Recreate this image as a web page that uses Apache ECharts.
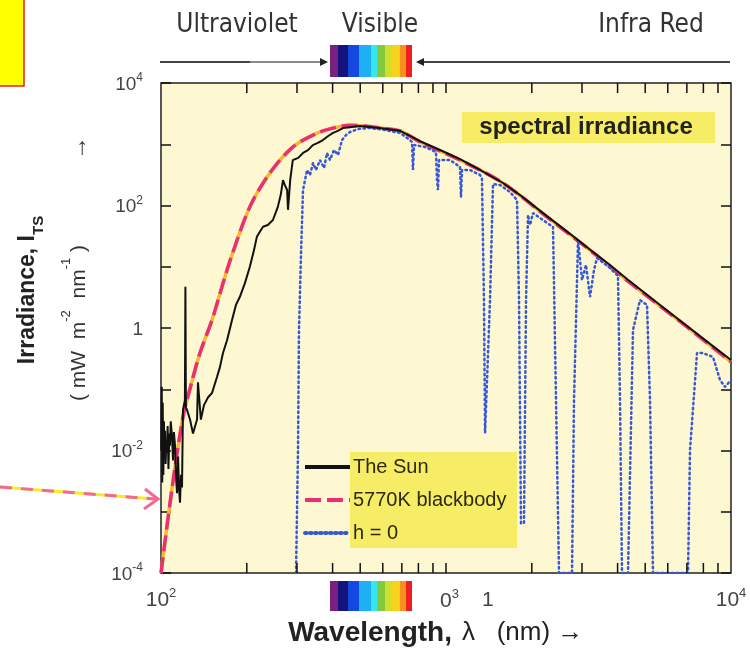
<!DOCTYPE html>
<html>
<head>
<meta charset="utf-8">
<script src="https://cdn.jsdelivr.net/npm/echarts@6/dist/echarts.min.js"></script>
<style>
  html, body { margin: 0; padding: 0; background: #fff; }
  #chart { width: 750px; height: 653px; }
</style>
</head>
<body>
<div id="chart"></div>
<script>
// wavelength (nm) and irradiance (mW m-2 nm-1)
var sunWave = [100.2, 100.6, 101, 101.4, 101.9, 102.4, 102.9, 103.3, 103.8, 104.4, 104.9, 105.5, 106.2, 107, 107.5, 108.2,
  109.3, 110.2, 111, 112, 112.8, 113.8, 114.8, 115.6, 116.6, 117.5, 118.5, 119.4, 121.3, 121.8, 122.3,
  123.4, 126.4, 129.5, 133.8, 134.8, 138, 141.5, 146.3, 151, 157.3, 161, 165, 170.5, 177.5, 183.3, 189, 197, 205, 212, 217,
  222, 228, 237, 247, 253, 257, 263, 268, 272, 277, 279, 284, 290, 303, 315, 328, 341, 355, 370, 385, 400, 417, 435, 460,
  499, 586, 690, 811, 953, 1120, 1316, 1585, 1819, 2260, 2512, 2846, 3280, 3763, 4315, 5635, 7010, 8440, 10000];
var sunIrr = [0.01, 0.11, 0.003, 0.06, 0.004, 0.03, 0.008, 0.021, 0.006, 0.015, 0.0091, 0.025, 0.005, 0.019, 0.012, 0.03,
  0.017, 0.0069, 0.02, 0.012, 0.004, 0.002, 0.008, 0.0025, 0.0014, 0.004, 0.0025, 0.046, 0.066, 4.7, 0.05,
  0.046, 0.032, 0.019, 0.032, 0.13, 0.032, 0.055, 0.074, 0.087, 0.16, 0.23, 0.39, 0.63, 1.35, 2.4, 3.2, 5.4, 10, 18.7, 31,
  37, 45, 48, 58, 78, 95, 148, 260, 215, 179, 85, 260, 550, 600, 720, 800, 970, 1050, 1170, 1350, 1520, 1650, 1840, 1900,
  1990, 1840, 1660, 1120, 806, 570, 380, 233, 148, 67, 46, 29.5, 17.4, 10.7, 6.3, 2.38, 1.08, 0.55, 0.30];

var bbWave = [100, 109.3, 119.4, 128.5, 137, 151, 162.4, 175, 205, 241, 290, 353, 414, 460, 520, 586, 690, 811, 1119, 1585,
  2260, 3280, 4315, 7010, 10000];
var bbIrr = [0.0001, 0.0024, 0.035, 0.136, 0.39, 1.35, 4.17, 12.9, 95, 340, 900, 1520, 1900, 2050, 1980, 1840, 1650, 1090,
  553, 233, 65, 17, 6.0, 1.04, 0.28];

var seaWave = [297.7, 302.5, 304.9, 309.9, 315, 320.2, 325.3, 333.3, 341.5, 349.9, 361.4, 373.3, 382.4, 391.7, 404.6, 417.9,
  431.6, 445.9, 460.6, 491.2, 541.2, 610.9, 689.7, 747.6, 759.8, 765.9, 772.2, 843.8, 922.4, 929.8, 937.3, 944.9, 1032.8,
  1119.8, 1128.9, 1138, 1214, 1316, 1337, 1359, 1371, 1393, 1427, 1462, 1547, 1677, 1775, 1804, 1833, 1878, 1909, 1940,
  1972, 2020, 2137, 2374, 2432, 2492, 2768, 2813, 2906, 3001, 3099, 3201, 3306, 3388, 3763, 4013, 4079, 4145, 4351, 4530,
  4794, 5074, 5198, 5325, 7066, 7181, 7600, 7978, 8648, 9151, 9526, 10000];
var seaIrr = [0.0001, 0.0102, 0.927, 15.6, 179, 261, 380, 315, 494, 380, 553, 410, 720, 553, 806, 667,
  1172, 1416, 1585, 1774, 1843, 1709, 1527, 1172, 1088, 380, 973, 902, 747, 261, 179, 553, 553,
  425, 138, 380, 380, 315, 281, 2.86, 0.0193, 0.0193, 2.86, 224, 216, 166, 123, 2.86, 0.00065, 0.00065, 2.86, 70,
  48, 75.5, 62.5, 44.6, 0.0667, 0.0001, 0.0001, 0.0667, 27.4, 6.08, 10.7, 3.2, 8.85, 13.9, 9.55, 7.06, 0.0667, 0.0001, 0.0001, 0.927,
  2.86, 2.38, 0.0667, 0.0001, 0.0001, 0.0102, 0.39, 0.39, 0.336, 0.142, 0.109, 0.142];

var minorTicks = [200, 300, 400, 500, 600, 700, 800, 900, 1000, 2000, 3000, 4000, 5000, 6000, 7000, 8000, 9000];
var legendNames = ['The Sun', '5770K blackbody', 'h = 0'];

var spectrum = [
  ['#7a2080', 0, 0.10], ['#14147e', 0.10, 0.225], ['#1448e0', 0.225, 0.35], ['#1eb0f4', 0.35, 0.50],
  ['#36e6f2', 0.50, 0.575], ['#84c83c', 0.575, 0.675], ['#cfe02c', 0.675, 0.75], ['#fad21e', 0.75, 0.85],
  ['#f8901e', 0.85, 0.925], ['#f01e1e', 0.925, 1]
];

function pairs(a, b) {
  return a.map(function (v, i) { return [v, b[i]]; });
}
function lg(v) {
  return Math.round(Math.log(v) / Math.LN10);
}
function specFill() {
  var stops = [];
  spectrum.forEach(function (s) {
    stops.push({ offset: s[1], color: s[0] });
    stops.push({ offset: s[2], color: s[0] });
  });
  return new echarts.graphic.LinearGradient(0, 0, 1, 0, stops);
}

var font = 'Liberation Sans, Arial, sans-serif';
var narrow = 'Liberation Sans Narrow, DejaVu Sans Condensed, Liberation Sans, sans-serif';
var chart = echarts.init(document.getElementById('chart'));

var option = {
  backgroundColor: '#fff',
  animation: false,
  grid: {
    left: 161, top: 83, width: 570, height: 490,
    show: true, backgroundColor: '#fdf8d2', borderColor: '#222', borderWidth: 1.5
  },
  legend: {
    data: legendNames,
    orient: 'vertical',
    left: 303, top: 457, padding: 0,
    itemWidth: 45, itemHeight: 14, itemGap: 13,
    itemStyle: { opacity: 0 },
    lineStyle: { width: 4 },
    textStyle: { fontFamily: font, fontSize: 20, color: '#2c2a10', padding: [0, 0, 0, -2] },
    z: 10
  },
  xAxis: {
    type: 'log', logBase: 10, min: 100, max: 10000,
    axisLine: { show: false },
    axisTick: { show: false },
    splitLine: { show: false },
    axisLabel: {
      margin: 14,
      formatter: function (v) {
        var e = lg(v);
        if (e === 2 || e === 4) return '{n|10}{s|' + e + '}';
        return '';
      },
      rich: {
        n: { fontFamily: font, fontSize: 21, color: '#444', lineHeight: 24, verticalAlign: 'bottom' },
        s: { fontFamily: font, fontSize: 13, color: '#444', lineHeight: 24, verticalAlign: 'top' }
      }
    }
  },
  yAxis: [{
    type: 'log', logBase: 10, min: 0.0001, max: 10000, splitNumber: 8,
    axisLine: { show: false },
    axisTick: { show: true, inside: true, length: 10, lineStyle: { color: '#111', width: 1.5 } },
    splitLine: { show: false },
    axisLabel: {
      margin: 18,
      formatter: function (v) {
        var e = lg(v);
        if (e % 2 !== 0) return '';
        if (e === 0) return '{n|1}';
        return '{n|10}{s|' + (e < 0 ? '-' + (-e) : e) + '}';
      },
      rich: {
        n: { fontFamily: font, fontSize: 19, color: '#444', lineHeight: 22, verticalAlign: 'bottom' },
        s: { fontFamily: font, fontSize: 12, color: '#444', lineHeight: 22, verticalAlign: 'top' }
      }
    }
  }, {
    type: 'log', logBase: 10, min: 0.0001, max: 10000, splitNumber: 8, position: 'right',
    axisLine: { show: false },
    axisTick: { show: true, inside: true, length: 10, lineStyle: { color: '#111', width: 1.5 } },
    splitLine: { show: false },
    axisLabel: { show: false }
  }],
  series: [
    {
      name: 'bb under', type: 'line', data: pairs(bbWave, bbIrr), symbol: 'none', smooth: 0.3,
      lineStyle: { color: '#f6b82c', width: 3.5 }, z: 2, silent: true
    },
    {
      name: '5770K blackbody', type: 'line', data: pairs(bbWave, bbIrr), symbol: 'none', smooth: 0.3,
      itemStyle: { color: '#ec2f72' },
      lineStyle: { color: '#ec2f72', width: 3.5, type: [16, 6] }, z: 3
    },
    {
      name: 'h = 0', type: 'line', data: pairs(seaWave, seaIrr), symbol: 'none',
      itemStyle: { color: '#3557d8' },
      lineStyle: { color: '#3557d8', width: 2.5, type: [1.5, 3.5], cap: 'round' }, z: 4
    },
    {
      name: 'The Sun', type: 'line', data: pairs(sunWave, sunIrr), symbol: 'none',
      itemStyle: { color: '#111' },
      lineStyle: { color: '#111', width: 2 }, z: 5
    },
    {
      name: 'ticks', type: 'custom', silent: true, clip: false, z: 6,
      data: minorTicks.map(function (v) { return [v, 1]; }),
      renderItem: function (params, api) {
        var v = api.value(0);
        var b = api.coord([v, 0.0001]);
        var t = api.coord([v, 10000]);
        var st = { stroke: '#111', lineWidth: 1.5 };
        return {
          type: 'group',
          children: [
            { type: 'line', shape: { x1: b[0], y1: b[1], x2: b[0], y2: b[1] - 10 }, style: st },
            { type: 'line', shape: { x1: t[0], y1: t[1], x2: t[0], y2: t[1] + 10 }, style: st }
          ]
        };
      }
    }
  ],
  graphic: [
    // yellow note box, top left
    { type: 'rect', shape: { x: -2, y: -2, width: 26, height: 88 }, style: { fill: '#ffff00', stroke: '#e02020', lineWidth: 1.5 }, z: 1 },
    // region labels
    { type: 'text', x: 237, y: 25, style: { text: 'Ultraviolet', font: '26px ' + narrow, fill: '#333', textAlign: 'center', textVerticalAlign: 'middle' } },
    { type: 'text', x: 380, y: 25, style: { text: 'Visible', font: '26px ' + narrow, fill: '#333', textAlign: 'center', textVerticalAlign: 'middle' } },
    { type: 'text', x: 651, y: 25, style: { text: 'Infra Red', font: '26px ' + narrow, fill: '#333', textAlign: 'center', textVerticalAlign: 'middle' } },
    // arrows
    { type: 'line', shape: { x1: 160, y1: 62, x2: 250, y2: 62 }, style: { stroke: '#444', lineWidth: 2 } },
    { type: 'line', shape: { x1: 250, y1: 62, x2: 322, y2: 62 }, style: { stroke: '#8a8a8a', lineWidth: 2 } },
    { type: 'polygon', shape: { points: [[328, 62], [320, 58], [320, 66]] }, style: { fill: '#222' } },
    { type: 'line', shape: { x1: 422, y1: 62, x2: 730, y2: 62 }, style: { stroke: '#444', lineWidth: 2 } },
    { type: 'polygon', shape: { points: [[416, 62], [424, 58], [424, 66]] }, style: { fill: '#222' } },
    // spectrum strips
    { type: 'rect', shape: { x: 330, y: 45, width: 82, height: 32 }, style: { fill: specFill() } },
    { type: 'rect', shape: { x: 330, y: 581, width: 82, height: 30 }, style: { fill: specFill() }, z: 10 },
    // pink pointer arrow
    { type: 'line', shape: { x1: 0, y1: 487, x2: 155, y2: 499 }, style: { stroke: '#f4ee20', lineWidth: 3 }, z: 10 },
    { type: 'line', shape: { x1: 0, y1: 487, x2: 155, y2: 499 }, style: { stroke: '#f46896', lineWidth: 3, lineDash: [12, 9] }, z: 10 },
    { type: 'polyline', shape: { points: [[145, 489], [158, 499], [144, 509]] }, style: { stroke: '#f46896', lineWidth: 3, fill: null }, z: 10 },
    // annotation boxes
    { type: 'rect', shape: { x: 462, y: 112, width: 253, height: 31 }, style: { fill: '#f6ec66' }, z: 8 },
    { type: 'text', x: 586, y: 127, z: 9, style: { text: 'spectral irradiance', font: 'bold 24px ' + font, fill: '#222', textAlign: 'center', textVerticalAlign: 'middle' } },
    { type: 'rect', shape: { x: 350, y: 452, width: 167, height: 96 }, style: { fill: '#f6ec66' }, z: 8 },
    // odd x labels
    { type: 'text', x: 440, y: 600, z: 10, style: { text: '{n|0}{s|3}', rich: { n: { font: '21px ' + font, fill: '#444', lineHeight: 24, verticalAlign: 'bottom' }, s: { font: '13px ' + font, fill: '#444', lineHeight: 24, verticalAlign: 'top' } }, textVerticalAlign: 'middle' } },
    { type: 'text', x: 482, y: 600, z: 10, style: { text: '1', font: '21px ' + font, fill: '#444', textVerticalAlign: 'middle' } },
    // axis titles
    { type: 'text', x: 452, y: 633, style: { text: 'Wavelength,', font: 'bold 28px ' + font, fill: '#222', textAlign: 'right', textVerticalAlign: 'middle' } },
    { type: 'text', x: 462, y: 633, style: { text: 'λ   (nm) →', font: '26px ' + font, fill: '#222', textAlign: 'left', textVerticalAlign: 'middle' } },
    { type: 'text', x: 31, y: 290, rotation: Math.PI / 2, style: { text: '{b|Irradiance, I}{s|TS}', rich: { b: { font: 'bold 23px ' + font, fill: '#222', lineHeight: 30, verticalAlign: 'top' }, s: { font: 'bold 15px ' + font, fill: '#222', lineHeight: 30, verticalAlign: 'bottom' } }, textAlign: 'center', textVerticalAlign: 'middle' } },
    { type: 'text', x: 75, y: 323, rotation: Math.PI / 2, style: { text: '{n|( mW  m}{s|-2}{n|  nm}{s|-1}{n| )}', rich: { n: { font: '21px ' + font, fill: '#333', lineHeight: 30, verticalAlign: 'bottom' }, s: { font: '13px ' + font, fill: '#333', lineHeight: 30, verticalAlign: 'top' } }, textAlign: 'center', textVerticalAlign: 'middle' } },
    { type: 'text', x: 79, y: 148, rotation: Math.PI / 2, style: { text: '→', font: '24px ' + font, fill: '#333', textAlign: 'center', textVerticalAlign: 'middle' } }
  ]
};

chart.setOption(option);
</script>
</body>
</html>
